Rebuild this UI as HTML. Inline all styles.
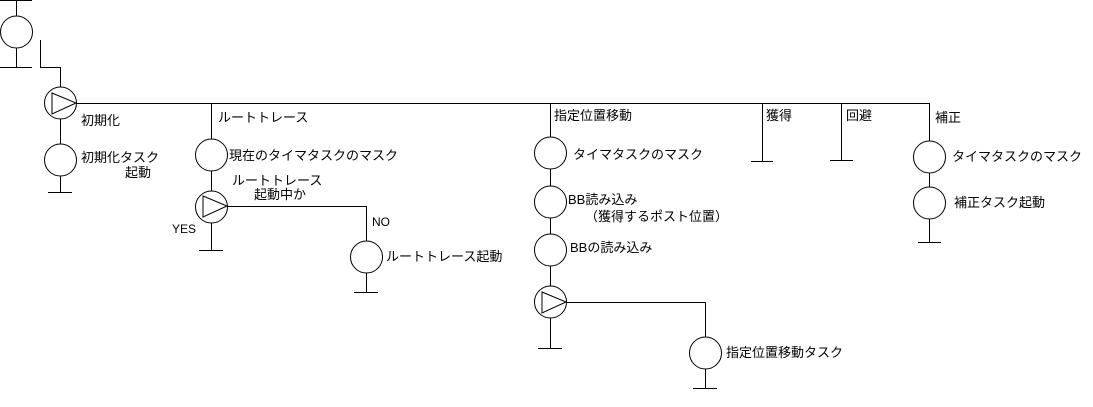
<!DOCTYPE html>
<html><head><meta charset="utf-8"><style>
body{margin:0;background:#fff;}
svg{display:block;}
text{font-family:"Liberation Sans","Noto Sans CJK JP",sans-serif;font-size:13px;fill:#000;}
</style></head><body>
<svg width="1093" height="407" viewBox="0 0 1093 407" xmlns="http://www.w3.org/2000/svg">
<g stroke="#000" stroke-width="1" fill="none" shape-rendering="crispEdges">
<!-- top start -->
<line x1="0" y1="0.5" x2="32" y2="0.5"/>
<line x1="16.5" y1="0" x2="16.5" y2="16"/>
<line x1="16.5" y1="48" x2="16.5" y2="67"/>
<line x1="0" y1="67.5" x2="32" y2="67.5"/>
<polyline points="40.5,40 40.5,67.5 60.5,67.5 60.5,87"/>
<!-- main bus -->
<line x1="76" y1="103.5" x2="929.5" y2="103.5"/>
<!-- init column -->
<line x1="60.5" y1="119" x2="60.5" y2="144"/>
<line x1="60.5" y1="176" x2="60.5" y2="192"/>
<line x1="48" y1="192.5" x2="72" y2="192.5"/>
<!-- route column -->
<line x1="211.5" y1="103" x2="211.5" y2="139"/>
<line x1="211.5" y1="171" x2="211.5" y2="191"/>
<line x1="211.5" y1="223" x2="211.5" y2="250"/>
<line x1="199" y1="250.5" x2="223" y2="250.5"/>
<polyline points="227,206.5 366.5,206.5 366.5,241"/>
<line x1="366.5" y1="273" x2="366.5" y2="292"/>
<line x1="354" y1="292.5" x2="378" y2="292.5"/>
<!-- 指定 column -->
<line x1="550.5" y1="103" x2="550.5" y2="137"/>
<line x1="550.5" y1="169" x2="550.5" y2="186"/>
<line x1="550.5" y1="218" x2="550.5" y2="234"/>
<line x1="550.5" y1="266" x2="550.5" y2="286"/>
<line x1="550.5" y1="318" x2="550.5" y2="348"/>
<line x1="538" y1="348.5" x2="562" y2="348.5"/>
<polyline points="566,302.5 705.5,302.5 705.5,337"/>
<line x1="705.5" y1="369" x2="705.5" y2="388"/>
<line x1="693" y1="388.5" x2="717" y2="388.5"/>
<!-- acquire / avoid -->
<line x1="762.5" y1="103" x2="762.5" y2="161"/>
<line x1="751" y1="161.5" x2="773" y2="161.5"/>
<line x1="841.5" y1="103" x2="841.5" y2="160"/>
<line x1="830" y1="160.5" x2="853" y2="160.5"/>
<!-- correction -->
<line x1="929.5" y1="103" x2="929.5" y2="141"/>
<line x1="929.5" y1="173" x2="929.5" y2="187"/>
<line x1="929.5" y1="219" x2="929.5" y2="242"/>
<line x1="918" y1="242.5" x2="941" y2="242.5"/>
</g>
<g stroke="#000" stroke-width="1" fill="none">
<circle cx="16.5" cy="32" r="16"/>
<circle cx="60.5" cy="103" r="16"/><polygon points="52,93 76,103 52,114"/>
<circle cx="60.5" cy="160" r="16"/>
<circle cx="211.5" cy="155" r="16"/>
<circle cx="211.5" cy="207" r="16"/><polygon points="203,196 227,206 203,217"/>
<circle cx="366.5" cy="257" r="16"/>
<circle cx="550.5" cy="153" r="16"/>
<circle cx="550.5" cy="202" r="16"/>
<circle cx="550.5" cy="250" r="16"/>
<circle cx="550.5" cy="302" r="16"/><polygon points="542,292 566,302 542,313"/>
<circle cx="705.5" cy="353" r="16"/>
<circle cx="929.5" cy="157" r="16"/>
<circle cx="929.5" cy="203" r="16"/>
</g>
<text x="81" y="125">初期化</text>
<text x="81" y="162">初期化タスク</text>
<text x="125" y="177">起動</text>
<text x="218" y="122">ルートトレース</text>
<text x="229" y="160">現在のタイマタスクのマスク</text>
<text x="232" y="185">ルートトレース</text>
<text x="254" y="199">起動中か</text>
<text x="172" y="233" style="font-size:12px">YES</text>
<text x="372" y="226" style="font-size:12px">NO</text>
<text x="386" y="261">ルートトレース起動</text>
<text x="554" y="120">指定位置移動</text>
<text x="573" y="159">タイマタスクのマスク</text>
<text x="568" y="204">BB読み込み</text>
<text x="585" y="221">（獲得するポスト位置）</text>
<text x="570" y="252">BBの読み込み</text>
<text x="726" y="357">指定位置移動タスク</text>
<text x="766" y="120">獲得</text>
<text x="846" y="120">回避</text>
<text x="935" y="122">補正</text>
<text x="952" y="161">タイマタスクのマスク</text>
<text x="954" y="207">補正タスク起動</text>
</svg>
</body></html>
